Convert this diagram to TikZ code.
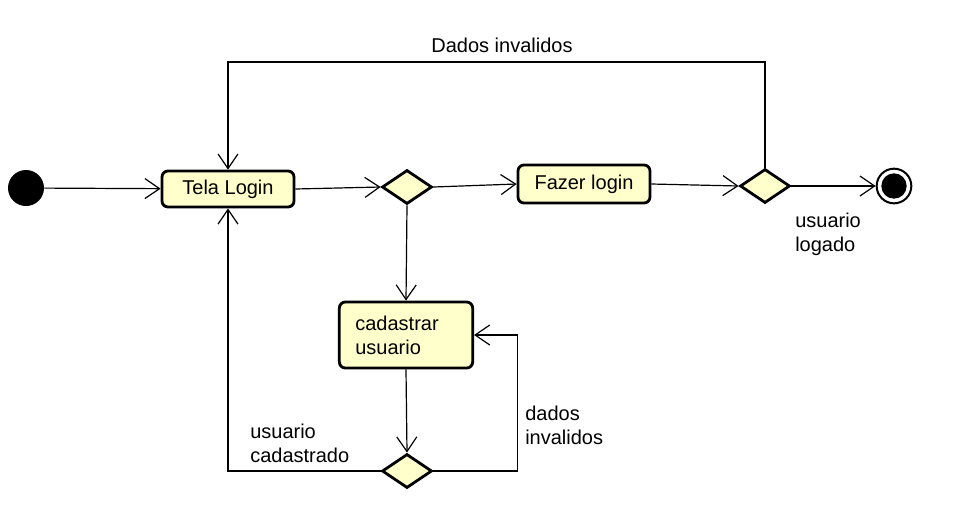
\documentclass[tikz,border=0pt]{standalone}
\usepackage{fontspec}
\setmainfont{Liberation Sans}
\usetikzlibrary{shapes.geometric,arrows.meta}
\definecolor{actfill}{RGB}{255,255,204}
\begin{document}
\begin{tikzpicture}[x=0.75pt,y=-0.75pt,
  font=\fontsize{15}{18}\selectfont,
  act/.style={draw, rounded corners=4.5pt, line width=2.1pt, fill=actfill, inner sep=0pt},
  dec/.style={diamond, draw, line width=2.1pt, fill=actfill, inner sep=0pt, minimum width=37.5pt, minimum height=25.5pt},
  conn/.style={line width=0.9pt},
  arr/.style={conn, -{Straight Barb[length=11pt,width=15pt,line width=0.9pt]}},
  lbl/.style={inner sep=0pt, align=left}]
\useasboundingbox (0,0) rectangle (964,519);
\node[circle, fill=black, minimum size=27pt, inner sep=0pt] (start) at (26,188) {};
\node[act, minimum width=99pt, minimum height=27pt] (tela) at (228,189) {Tela Login};
\node[dec] (d1) at (407,187) {};
\node[act, minimum width=99pt, minimum height=28.5pt] (fazer) at (584,184) {Fazer login};
\node[dec] (d2) at (765,186) {};
\node[circle, draw, line width=1.5pt, fill=white, minimum size=26pt, inner sep=0pt] (end) at (894,186) {};
\node[circle, fill=black, minimum size=19pt, inner sep=0pt] (endin) at (end.center) {};
\node[act, minimum height=49.5pt, text width=76pt, inner xsep=12pt, align=left] (cad) at (406,335) {cadastrar\\usuario};
\node[dec] (d3) at (407,471) {};

\node[lbl, anchor=north west] (lab1) at (795,213) {usuario\\logado};
\node[lbl] (lab2) at (502,45) {Dados invalidos};
\node[lbl, anchor=north west] (lab3) at (525,406) {dados\\invalidos};
\node[lbl, anchor=north west] (lab4) at (250,424) {usuario\\cadastrado};

\draw[arr] (start) -- (tela);
\draw[arr] (tela.east) -- (d1.west);
\draw[arr] (d1.east) -- (fazer.west);
\draw[arr] (fazer.east) -- (d2.west);
\draw[arr] (d2.east) -- (end.west);
\coordinate (topy) at (0,62);
\draw[arr] (d2.north) |- (tela.north |- topy) -- (tela.north);
\draw[arr] (d1.south) -- (cad.north);
\draw[arr] (cad.south) -- (d3.north);
\draw[arr] (d3.east) -- ++(84,0) |- (cad.east);
\draw[arr] (d3.west) -| (tela.south);
\end{tikzpicture}
\end{document}
